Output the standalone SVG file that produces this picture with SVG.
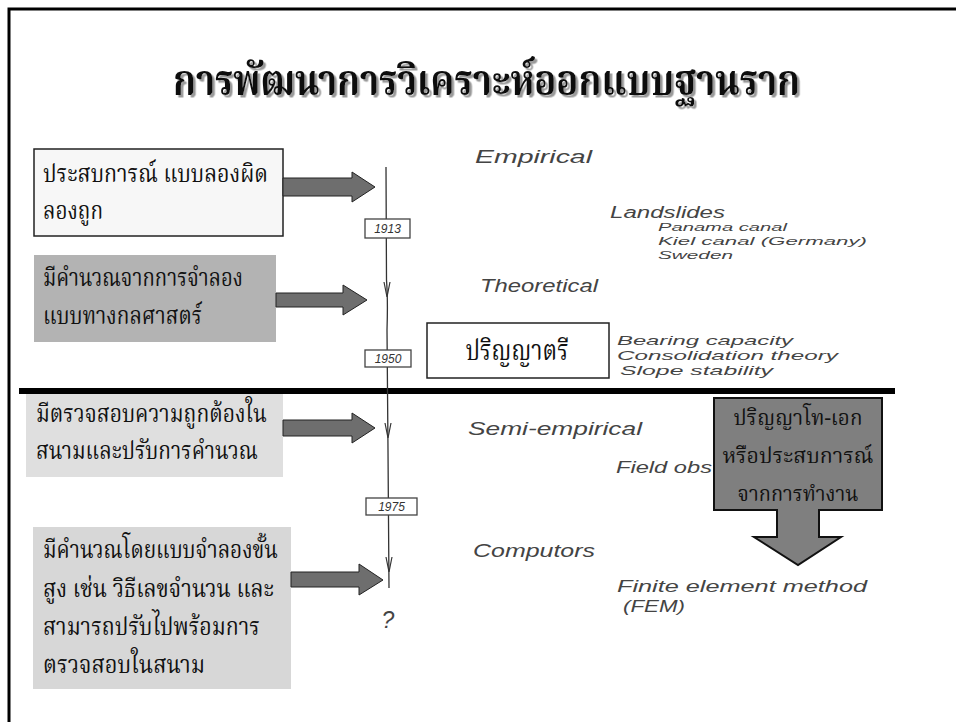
<svg xmlns="http://www.w3.org/2000/svg" width="956" height="722" viewBox="0 0 956 722">
<defs>
<filter id="sh" x="-5%" y="-20%" width="110%" height="140%">
<feDropShadow dx="2.5" dy="2.5" stdDeviation="0.6" flood-color="#9a9a9a" flood-opacity="1"/>
</filter>
</defs>
<style>
.th{font-family:"Noto Serif Thai","Norasi","Kinnari","Liberation Serif",serif;fill:#111;}
.box{font-size:24px;}
.hw{font-family:"Liberation Sans","DejaVu Sans",sans-serif;font-style:italic;fill:#444;}
.yr{font-family:"Liberation Sans",sans-serif;font-style:italic;font-size:12px;fill:#333;}
.arrow{fill:#6e6e6e;stroke:#222;stroke-width:1;}
.yb{fill:#fff;stroke:#444;stroke-width:1.3;}
.tick{fill:none;stroke:#333;stroke-width:1.2;}
</style>
<rect x="0" y="0" width="956" height="722" fill="#fff"/>
<path d="M9,722 V9 H956" fill="none" stroke="#000" stroke-width="3"/>

<g id="title">
<text x="486.5" y="95" text-anchor="middle" class="th" font-size="42" font-weight="bold" filter="url(#sh)" textLength="627" lengthAdjust="spacingAndGlyphs">การพัฒนาการวิเคราะห์ออกแบบฐานราก</text>
</g>

<g id="divider"><line x1="19" y1="391" x2="895" y2="391" stroke="#000" stroke-width="6"/></g>

<g id="box1">
<rect x="34" y="149" width="249" height="87" fill="#f7f7f7" stroke="#222" stroke-width="1.5"/>
<text x="43" y="182" class="th box" textLength="225" lengthAdjust="spacingAndGlyphs">ประสบการณ์ แบบลองผิด</text>
<text x="43" y="219" class="th box" textLength="60" lengthAdjust="spacingAndGlyphs">ลองถูก</text>
</g>
<g id="box2">
<rect x="34" y="255" width="242" height="87" fill="#b3b3b3"/>
<text x="43" y="286" class="th box" textLength="200" lengthAdjust="spacingAndGlyphs">มีคำนวณจากการจำลอง</text>
<text x="43" y="324" class="th box" textLength="159" lengthAdjust="spacingAndGlyphs">แบบทางกลศาสตร์</text>
</g>
<g id="box3">
<rect x="26" y="394" width="257" height="83" fill="#dfdfdf"/>
<text x="36" y="422" class="th box" textLength="231" lengthAdjust="spacingAndGlyphs">มีตรวจสอบความถูกต้องใน</text>
<text x="36" y="459" class="th box" textLength="222" lengthAdjust="spacingAndGlyphs">สนามและปรับการคำนวณ</text>
</g>
<g id="box4">
<rect x="33" y="527" width="258" height="162" fill="#d7d7d7"/>
<text x="43" y="558" class="th box" textLength="235" lengthAdjust="spacingAndGlyphs">มีคำนวณโดยแบบจำลองขั้น</text>
<text x="43" y="597" class="th box" textLength="231" lengthAdjust="spacingAndGlyphs">สูง เช่น วิธีเลขจำนวน และ</text>
<text x="43" y="635" class="th box" textLength="217" lengthAdjust="spacingAndGlyphs">สามารถปรับไปพร้อมการ</text>
<text x="43" y="673" class="th box" textLength="162" lengthAdjust="spacingAndGlyphs">ตรวจสอบในสนาม</text>
</g>
<g id="bachelor">
<rect x="427" y="323" width="182" height="55" fill="#fff" stroke="#222" stroke-width="1.5"/>
<text x="517" y="360" text-anchor="middle" class="th" font-size="28" textLength="103" lengthAdjust="spacingAndGlyphs">ปริญญาตรี</text>
</g>
<g id="graduate">
<path d="M714,398 H882 V510 H819 V537 H841 L798,565 L754,537 H777 V510 H714 Z" fill="#7f7f7f" stroke="#111" stroke-width="2"/>
<text x="798" y="425" text-anchor="middle" class="th" font-size="22" textLength="129" lengthAdjust="spacingAndGlyphs">ปริญญาโท-เอก</text>
<text x="798" y="463" text-anchor="middle" class="th" font-size="22" textLength="151" lengthAdjust="spacingAndGlyphs">หรือประสบการณ์</text>
<text x="798" y="501" text-anchor="middle" class="th" font-size="22" textLength="121" lengthAdjust="spacingAndGlyphs">จากการทำงาน</text>
</g>

<g id="connectors">
<path class="arrow" d="M283,178 H352 V172 L375,187 L352,202 V196 H283 Z"/>
<path class="arrow" d="M276,293 H343 V285 L367,300 L343,315 V307 H276 Z"/>
<path class="arrow" d="M283,420 H352 V413 L375,428 L352,443 V436 H283 Z"/>
<path class="arrow" d="M291,572 H359 V564 L383,580 L359,595 V587 H291 Z"/>
</g>

<g id="timeline">
<path d="M386,167 L386.5,280 Q388,300 387,330 L388,450 L389,588" fill="none" stroke="#333" stroke-width="1.3"/>
<path class="tick" d="M384,282 L387,297 L390,282"/>
<path class="tick" d="M385,423 L388,438 L391,423"/>
<path class="tick" d="M386,557 L389,572 L392,557"/>
<rect class="yb" x="365" y="219" width="45" height="19"/>
<text class="yr" x="387.5" y="233" text-anchor="middle">1913</text>
<rect class="yb" x="365" y="350" width="46" height="17"/>
<text class="yr" x="388" y="363" text-anchor="middle">1950</text>
<rect class="yb" x="366" y="498" width="51" height="17"/>
<text class="yr" x="391.5" y="511" text-anchor="middle">1975</text>
<text class="hw" x="388" y="628" text-anchor="middle" font-size="23">?</text>
</g>

<g id="notes">
<text class="hw" x="475" y="163" font-size="19" textLength="117" lengthAdjust="spacingAndGlyphs">Empirical</text>
<text class="hw" x="610" y="218" font-size="16" textLength="115" lengthAdjust="spacingAndGlyphs">Landslides</text>
<text class="hw" x="658" y="231" font-size="11.5" textLength="129" lengthAdjust="spacingAndGlyphs">Panama canal</text>
<text class="hw" x="658" y="245" font-size="11.5" textLength="209" lengthAdjust="spacingAndGlyphs">Kiel canal (Germany)</text>
<text class="hw" x="658" y="259" font-size="11.5" textLength="75" lengthAdjust="spacingAndGlyphs">Sweden</text>
<text class="hw" x="480" y="292" font-size="19" textLength="118" lengthAdjust="spacingAndGlyphs">Theoretical</text>
<text class="hw" x="617" y="345" font-size="13.5" textLength="176" lengthAdjust="spacingAndGlyphs">Bearing capacity</text>
<text class="hw" x="617" y="360" font-size="13.5" textLength="221" lengthAdjust="spacingAndGlyphs">Consolidation theory</text>
<text class="hw" x="620" y="375" font-size="13.5" textLength="153" lengthAdjust="spacingAndGlyphs">Slope stability</text>
<text class="hw" x="468" y="435" font-size="19" textLength="174" lengthAdjust="spacingAndGlyphs">Semi-empirical</text>
<text class="hw" x="616" y="473" font-size="17" textLength="96" lengthAdjust="spacingAndGlyphs">Field obs</text>
<text class="hw" x="473" y="557" font-size="19" textLength="122" lengthAdjust="spacingAndGlyphs">Computors</text>
<text class="hw" x="617" y="592" font-size="16" textLength="250" lengthAdjust="spacingAndGlyphs">Finite element method</text>
<text class="hw" x="623" y="612" font-size="16" textLength="62" lengthAdjust="spacingAndGlyphs">(FEM)</text>
</g>
</svg>
